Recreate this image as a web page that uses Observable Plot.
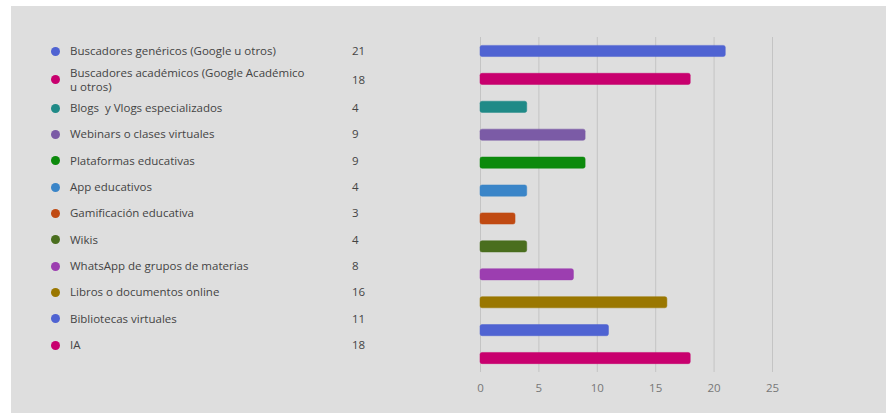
<!DOCTYPE html>
<html>
<head>
<meta charset="utf-8">
<script src="https://cdn.jsdelivr.net/npm/d3@7"></script>
<script src="https://cdn.jsdelivr.net/npm/@observablehq/plot@0.6"></script>
<style>
  html, body { margin: 0; padding: 0; background: #ffffff; }
  #wrap { position: relative; width: 886px; height: 413px; overflow: hidden; font-family: "Open Sans", sans-serif; }
  #panel { position: absolute; left: 11px; top: 6px; right: 0; bottom: 0; background: #dedede; }
  #chart { position: absolute; left: 0; top: 0; }
  #legend { position: absolute; left: 49px; top: 38px; width: 340px; }
  .row { display: flex; align-items: center; min-height: 26.35px; font-size: 11.5px; color: #444; line-height: 14px; }
  .dot { width: 9px; height: 9px; border-radius: 50%; flex: none; margin-left: 2px; }
  .lab { margin-left: 10px; width: 240px; flex: none; }
  .val { margin-left: 42px; }
</style>
</head>
<body>
<div id="wrap">
  <div id="panel"></div>
  <div id="legend"></div>
  <div id="chart"></div>
</div>
<script>
const categories = [
  "Buscadores genéricos (Google u otros)",
  "Buscadores académicos (Google Académico u otros)",
  "Blogs  y Vlogs especializados",
  "Webinars o clases virtuales",
  "Plataformas educativas",
  "App educativos",
  "Gamificación educativa",
  "Wikis",
  "WhatsApp de grupos de materias",
  "Libros o documentos online",
  "Bibliotecas virtuales",
  "IA"
];
const values = [21, 18, 4, 9, 9, 4, 3, 4, 8, 16, 11, 18];
const colors = ["#4f63d2", "#c8006e", "#1f8a87", "#7b5ba6", "#0c8a0c", "#3a85c8",
                "#c04a12", "#4a6e1e", "#9c3eb0", "#9a7700", "#4f63d2", "#c8006e"];
const xTicks = [0, 5, 10, 15, 20, 25];

const data = categories.map((c, i) => ({category: c, value: values[i], color: colors[i]}));

// Legend
const legend = document.getElementById("legend");
data.forEach((d, i) => {
  const row = document.createElement("div");
  row.className = "row";
  if (i === 1) row.style.minHeight = "30.5px";
  row.innerHTML = `<span class="dot" style="background:${d.color}"></span><span class="lab">${d.category.replace(/  /g, "&nbsp; ")}</span><span class="val">${d.value}</span>`;
  legend.appendChild(row);
});

const chart = Plot.plot({
  width: 886,
  height: 413,
  marginLeft: 480,
  marginRight: 114,
  marginTop: 37,
  marginBottom: 41,
  style: {background: "transparent", fontFamily: "Open Sans, sans-serif", fontSize: "11.5px"},
  x: {domain: [0, 25], ticks: xTicks, tickSize: 0, tickPadding: 11, label: null},
  y: {domain: categories, paddingInner: 0.6, paddingOuter: 0.3, round: false, axis: null},
  color: {type: "identity"},
  marks: [
    Plot.gridX(xTicks, {stroke: "#c4c4c4", strokeOpacity: 1, strokeWidth: 1}),
    Plot.barX(data, {x: "value", y: "category", fill: "color", stroke: "color", strokeOpacity: 0.5, rx: 2}),
    Plot.axisX({ticks: xTicks, tickSize: 0, tickPadding: 11, fill: "#777", label: null, fontSize: 11.5})
  ]
});
document.getElementById("chart").appendChild(chart);
</script>
</body>
</html>
